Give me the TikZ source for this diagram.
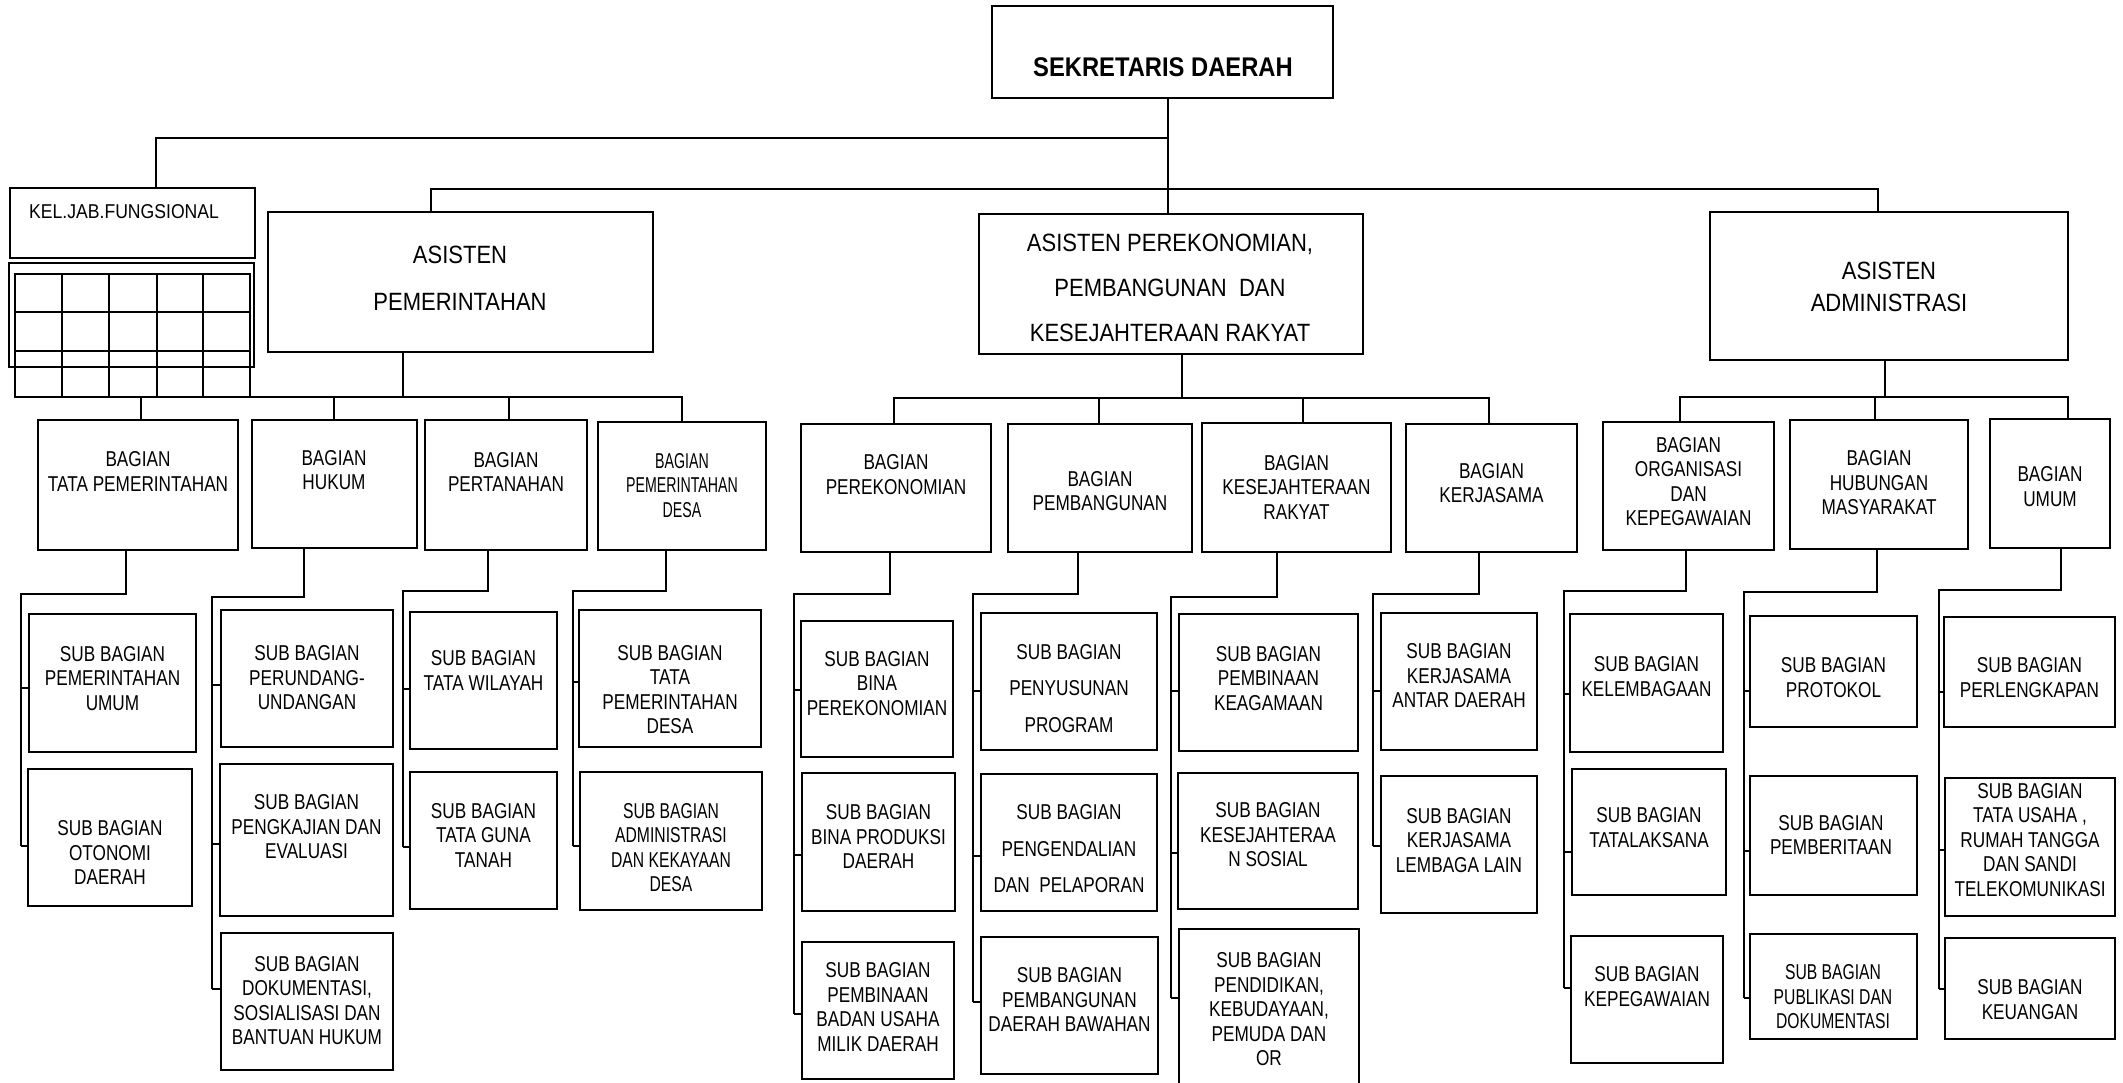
\documentclass[tikz,border=0pt]{standalone}
\usepackage{fontspec}
\setmainfont{Liberation Sans}[FakeStretch=0.8]
\newfontfamily\wid{Liberation Sans}[FakeStretch=0.88]
\newfontfamily\cndA{Liberation Sans}[FakeStretch=0.66]
\newfontfamily\cndB{Liberation Sans}[FakeStretch=0.73]
\newcommand\bx[5]{\node[box,minimum width={(#4)-(#2)},minimum height={(#5)-(#3)}] (#1) at ({((#2)+(#4))/2},{((#3)+(#5))/2}) {};}
\newcommand\tx[5][]{\node[txt,#1] (#2-t) at (#3,#4) {#5};}
\newcommand\subtree[6]{\draw[conn] (#1.south -| #2,0) |- (#4,#3) -- (#4,#5);
  \foreach \sb/\ty in {#6} {\draw[conn] (#4,\ty) -- (\sb.west |- 0,\ty);}}
\begin{document}
\begin{tikzpicture}[x=1pt,y=-1pt,
  box/.style={draw,rectangle,line width=2pt,inner sep=0pt},
  conn/.style={line width=2pt},
  txt/.style={align=center,inner sep=0pt,font=\fontsize{21.5}{24.5}\selectfont},
  wide/.style={font=\fontsize{21.5}{36.5}\selectfont},
  cna/.style={font=\cndA\fontsize{21.5}{24.5}\selectfont},
  cnb/.style={font=\cndB\fontsize{21.5}{24.5}\selectfont},
  big/.style={font=\wid\fontsize{25}{#1}\selectfont}]
\useasboundingbox (0,0) rectangle (2123,1082);
\fill[white] (0,0) rectangle (2123,1082);

% ---------- top level ----------
\bx{sekda}{992}{6}{1333}{98}
\tx[font=\wid\bfseries\fontsize{27}{30}\selectfont]{sekda}{1163}{67}{SEKRETARIS DAERAH}
\bx{kel}{10}{188}{255}{258}
\tx[anchor=west,font=\wid\fontsize{20}{24}\selectfont]{kel}{29}{212}{KEL.JAB.FUNGSIONAL}
\bx{aPem}{268}{212}{653}{352}
\tx[big=47]{aPem}{460}{278.5}{ASISTEN\\PEMERINTAHAN}
\bx{aEko}{979}{214}{1363}{354}
\tx[big=45]{aEko}{1170}{288}{ASISTEN PEREKONOMIAN,\\PEMBANGUNAN\ \ DAN\\KESEJAHTERAAN RAKYAT}
\bx{aAdm}{1710}{212}{2068}{360}
\tx[big=32]{aAdm}{1889}{287}{ASISTEN\\ADMINISTRASI}

% grid under KEL.JAB.FUNGSIONAL
\draw[conn] (9,263) rectangle (254,367);
\draw[conn] (15,274) rectangle (250,397);
\foreach \gx in {62,109,157,203} {\draw[conn] (\gx,274) -- (\gx,397);}
\foreach \gy in {312,351} {\draw[conn] (15,\gy) -- (250,\gy);}

\coordinate (j1) at (1168,138);
\coordinate (j2) at (1168,189);
\draw[conn] (sekda.south -| 1168,0) -- (aEko.north -| 1168,0);
\draw[conn] (kel.north -| 156,0) |- (j1);
\draw[conn] (aPem.north -| 431,0) |- (j2) -| (aAdm.north -| 1878,0);

% ---------- Asisten Pemerintahan ----------
\bx{bTP}{38}{420}{238}{550}
\tx{bTP}{138}{471.5}{BAGIAN\\TATA PEMERINTAHAN}
\bx{bHK}{252}{420}{417}{548}
\tx{bHK}{334}{470}{BAGIAN\\HUKUM}
\bx{bPT}{425}{420}{587}{550}
\tx{bPT}{506}{472}{BAGIAN\\PERTANAHAN}
\bx{bPD}{598}{422}{766}{550}
\tx[cna]{bPD}{682}{485.5}{BAGIAN\\PEMERINTAHAN\\DESA}

\coordinate (pb) at (403,397);
\draw[conn] (aPem.south -| 403,0) -- (pb);
\draw[conn] (bTP.north -| 141,0) -- (141,397) -| (bPD.north -| 682,0);
\draw[conn] (334,397) -- (bHK.north -| 334,0);
\draw[conn] (509,397) -- (bPT.north -| 509,0);

\bx{sPU}{29}{614}{196}{752}
\tx{sPU}{112.5}{678.5}{SUB BAGIAN\\PEMERINTAHAN\\UMUM}
\bx{sOD}{28}{769}{192}{906}
\tx{sOD}{110}{852.5}{SUB BAGIAN\\OTONOMI\\DAERAH}
\bx{sPR}{221}{610}{393}{747}
\tx{sPR}{307}{678}{SUB BAGIAN\\PERUNDANG-\\UNDANGAN}
\bx{sPE}{220}{764}{393}{916}
\tx{sPE}{306.5}{827}{SUB BAGIAN\\PENGKAJIAN DAN\\EVALUASI}
\bx{sDS}{221}{933}{393}{1070}
\tx{sDS}{307}{1000.5}{SUB BAGIAN\\DOKUMENTASI,\\SOSIALISASI DAN\\BANTUAN HUKUM}
\bx{sTW}{410}{612}{557}{749}
\tx{sTW}{483.5}{670.5}{SUB BAGIAN\\TATA WILAYAH}
\bx{sTG}{410}{772}{557}{909}
\tx{sTG}{483.5}{835}{SUB BAGIAN\\TATA GUNA\\TANAH}
\bx{sTD}{579}{610}{761}{747}
\tx{sTD}{670}{689.5}{SUB BAGIAN\\TATA\\PEMERINTAHAN\\DESA}
\bx{sAD}{580}{772}{762}{910}
\tx[cnb]{sAD}{671}{847.5}{SUB BAGIAN\\ADMINISTRASI\\DAN KEKAYAAN\\DESA}

\subtree{bTP}{126}{594}{21}{846}{sPU/688,sOD/846}
\subtree{bHK}{304}{597}{212}{989}{sPR/685,sPE/844,sDS/989}
\subtree{bPT}{488}{591}{403}{847}{sTW/689,sTG/847}
\subtree{bPD}{666}{591}{573}{846}{sTD/682,sAD/846}

% ---------- Asisten Perekonomian ----------
\bx{bPK}{801}{424}{991}{552}
\tx{bPK}{896}{474.5}{BAGIAN\\PEREKONOMIAN}
\bx{bPB}{1008}{424}{1192}{552}
\tx{bPB}{1100}{491}{BAGIAN\\PEMBANGUNAN}
\bx{bKR}{1202}{423}{1391}{552}
\tx{bKR}{1296.5}{487}{BAGIAN\\KESEJAHTERAAN\\RAKYAT}
\bx{bKS}{1406}{424}{1577}{552}
\tx{bKS}{1491.5}{483}{BAGIAN\\KERJASAMA}

\draw[conn] (aEko.south -| 1182,0) -- (1182,398);
\draw[conn] (bPK.north -| 894,0) -- (894,398) -| (bKS.north -| 1489,0);
\draw[conn] (1099,398) -- (bPB.north -| 1099,0);
\draw[conn] (1303,398) -- (bKR.north -| 1303,0);

\bx{sBP}{801}{621}{953}{757}
\tx{sBP}{877}{683.5}{SUB BAGIAN\\BINA\\PEREKONOMIAN}
\bx{sBD}{802}{773}{955}{911}
\tx{sBD}{878.5}{836.5}{SUB BAGIAN\\BINA PRODUKSI\\DAERAH}
\bx{sBU}{802}{942}{954}{1079}
\tx{sBU}{878}{1007}{SUB BAGIAN\\PEMBINAAN\\BADAN USAHA\\MILIK DAERAH}
\bx{sPP}{981}{613}{1157}{750}
\tx[wide]{sPP}{1069}{688.5}{SUB BAGIAN\\PENYUSUNAN\\PROGRAM}
\bx{sPL}{981}{774}{1157}{911}
\tx[wide]{sPL}{1069}{849}{SUB BAGIAN\\PENGENDALIAN\\DAN\ \ PELAPORAN}
\bx{sDB}{981}{937}{1158}{1074}
\tx{sDB}{1069.5}{999.5}{SUB BAGIAN\\PEMBANGUNAN\\DAERAH BAWAHAN}
\bx{sKG}{1179}{614}{1358}{751}
\tx{sKG}{1268.5}{678.5}{SUB BAGIAN\\PEMBINAAN\\KEAGAMAAN}
\bx{sKS}{1178}{773}{1358}{909}
\tx{sKS}{1268}{835}{SUB BAGIAN\\KESEJAHTERAA\\N SOSIAL}
\bx{sPO}{1179}{929}{1359}{1100}
\tx{sPO}{1269}{1009.5}{SUB BAGIAN\\PENDIDIKAN,\\KEBUDAYAAN,\\PEMUDA DAN\\OR}
\bx{sKA}{1381}{613}{1537}{750}
\tx{sKA}{1459}{675.5}{SUB BAGIAN\\KERJASAMA\\ANTAR DAERAH}
\bx{sKL}{1381}{776}{1537}{913}
\tx{sKL}{1459}{840.5}{SUB BAGIAN\\KERJASAMA\\LEMBAGA LAIN}

\subtree{bPK}{890}{594}{794}{1014}{sBP/690,sBD/855,sBU/1014}
\subtree{bPB}{1078}{594}{973}{1002}{sPP/691,sPL/856,sDB/1002}
\subtree{bKR}{1277}{597}{1171}{998}{sKG/691,sKS/853,sPO/998}
\subtree{bKS}{1479}{594}{1373}{846}{sKA/691,sKL/846}

% ---------- Asisten Administrasi ----------
\bx{bOK}{1603}{422}{1774}{550}
\tx{bOK}{1688.5}{481.5}{BAGIAN\\ORGANISASI\\DAN\\KEPEGAWAIAN}
\bx{bHM}{1790}{420}{1968}{549}
\tx{bHM}{1879}{483}{BAGIAN\\HUBUNGAN\\MASYARAKAT}
\bx{bUM}{1990}{419}{2110}{548}
\tx{bUM}{2050}{486.5}{BAGIAN\\UMUM}

\draw[conn] (aAdm.south -| 1885,0) -- (1885,397);
\draw[conn] (bOK.north -| 1680,0) -- (1680,397) -| (bUM.north -| 2068,0);
\draw[conn] (1875,397) -- (bHM.north -| 1875,0);

\bx{sKB}{1570}{614}{1723}{752}
\tx{sKB}{1646.5}{676.5}{SUB BAGIAN\\KELEMBAGAAN}
\bx{sTL}{1572}{769}{1726}{895}
\tx{sTL}{1649}{827.5}{SUB BAGIAN\\TATALAKSANA}
\bx{sKP}{1571}{936}{1723}{1063}
\tx{sKP}{1647}{986.5}{SUB BAGIAN\\KEPEGAWAIAN}
\bx{sPT}{1750}{616}{1917}{727}
\tx{sPT}{1833.5}{677.5}{SUB BAGIAN\\PROTOKOL}
\bx{sPB}{1750}{776}{1917}{895}
\tx{sPB}{1831}{835}{SUB BAGIAN\\PEMBERITAAN}
\bx{sPD}{1750}{934}{1917}{1039}
\tx[cnb]{sPD}{1833}{997}{SUB BAGIAN\\PUBLIKASI DAN\\DOKUMENTASI}
\bx{sPK}{1944}{617}{2115}{727}
\tx{sPK}{2029.5}{677.5}{SUB BAGIAN\\PERLENGKAPAN}
\bx{sTU}{1945}{778}{2115}{916}
\tx{sTU}{2030}{840}{SUB BAGIAN\\TATA USAHA ,\\RUMAH TANGGA\\DAN SANDI\\TELEKOMUNIKASI}
\bx{sKU}{1945}{938}{2115}{1039}
\tx{sKU}{2030}{999.5}{SUB BAGIAN\\KEUANGAN}

\subtree{bOK}{1686}{591}{1564}{988}{sKB/694,sTL/852,sKP/988}
\subtree{bHM}{1877}{592}{1744}{998}{sPT/691,sPB/851,sPD/998}
\subtree{bUM}{2061}{590}{1939}{989}{sPK/692,sTU/850,sKU/989}
\end{tikzpicture}
\end{document}
